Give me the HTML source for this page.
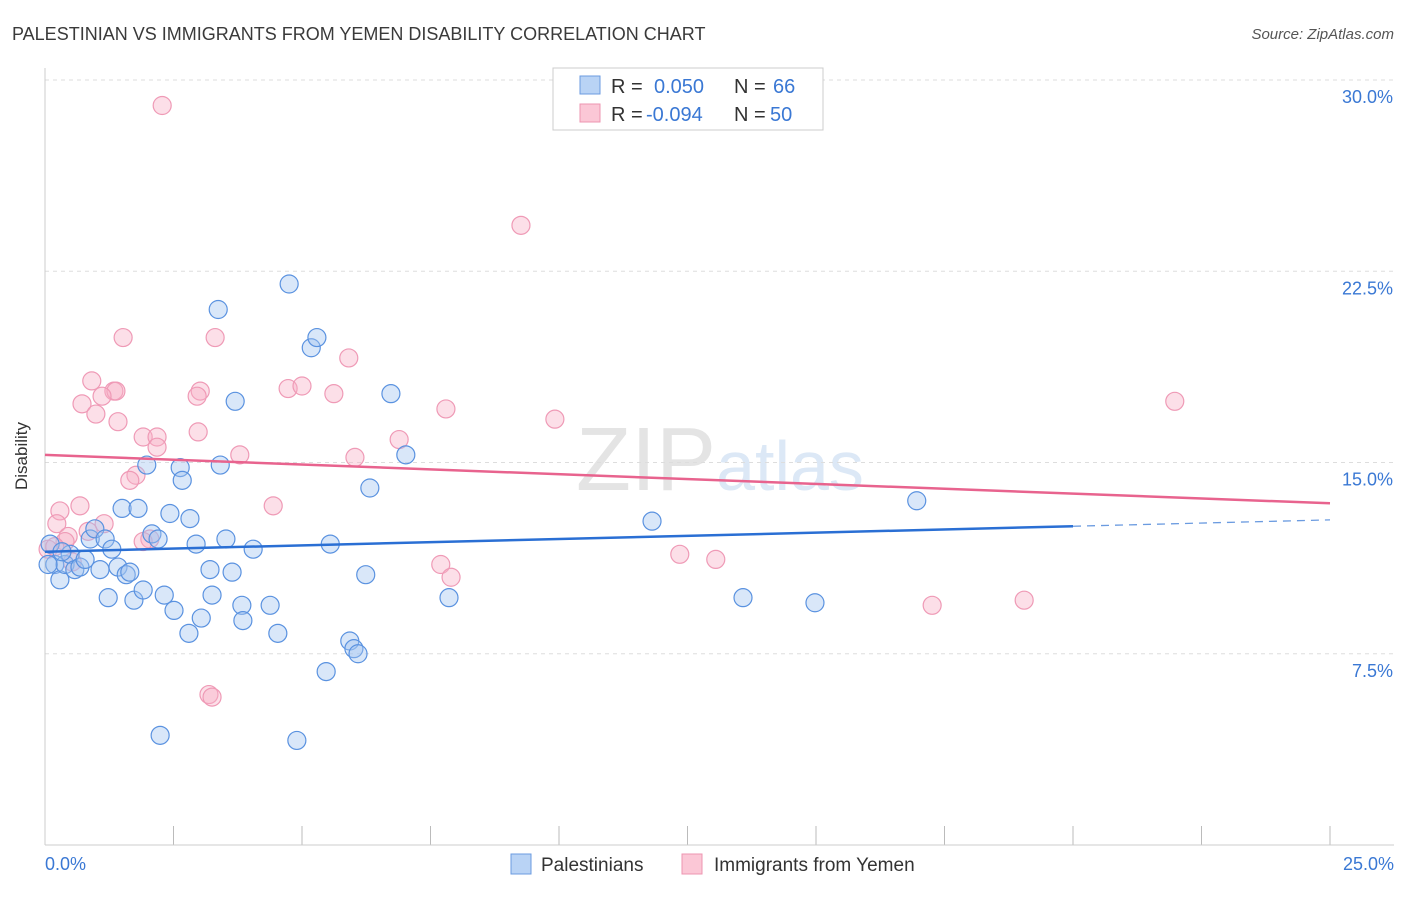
<!DOCTYPE html>
<html><head><meta charset="utf-8"><style>
body{margin:0;background:#fff;font-family:"Liberation Sans",sans-serif}
svg text{font-family:"Liberation Sans",sans-serif}
</style></head><body>
<svg width="1406" height="892" xmlns="http://www.w3.org/2000/svg">
<text x="12" y="40" font-size="18" fill="#3a3a3a">PALESTINIAN VS IMMIGRANTS FROM YEMEN DISABILITY CORRELATION CHART</text>
<text x="1394" y="39" font-size="15" fill="#555" text-anchor="end" font-style="italic">Source: ZipAtlas.com</text>
<text x="720" y="490" font-size="90" fill="#e4e4e4" text-anchor="middle" font-family="Liberation Serif">ZIP<tspan fill="#dce8f6" font-family="Liberation Sans" font-size="70">atlas</tspan></text>
<g id="grid"></g>
<line x1="45" y1="68" x2="45" y2="845" stroke="#ccc"/>
<line x1="45" y1="845" x2="1394" y2="845" stroke="#ccc"/>
<text x="27" y="456" font-size="17" fill="#333" text-anchor="middle" transform="rotate(-90 27 456)">Disability</text>
<text x="45" y="870" font-size="18" fill="#3a78d4">0.0%</text>
<text x="1394" y="870" font-size="18" fill="#3a78d4" text-anchor="end">25.0%</text>
<g id="pts"></g>
<g id="trends"></g>
<g>
<rect x="553" y="68" width="270" height="62" fill="#fff" stroke="#ccc"/>
<rect x="580" y="76" width="20" height="18" fill="#b9d3f5" stroke="#6b9be0"/>
<rect x="580" y="104" width="20" height="18" fill="#fbc7d6" stroke="#ee94b0"/>
<text x="611" y="93" font-size="20" fill="#333">R =</text>
<text x="654" y="93" font-size="20" fill="#3a78d4">0.050</text>
<text x="734" y="93" font-size="20" fill="#333">N =</text>
<text x="773" y="93" font-size="20" fill="#3a78d4">66</text>
<text x="611" y="121" font-size="20" fill="#333">R =</text>
<text x="646" y="121" font-size="20" fill="#3a78d4">-0.094</text>
<text x="734" y="121" font-size="20" fill="#333">N =</text>
<text x="770" y="121" font-size="20" fill="#3a78d4">50</text>
</g>
<g>
<rect x="511" y="854" width="20" height="20" fill="#b9d3f5" stroke="#6b9be0"/>
<text x="541" y="871" font-size="19" fill="#333">Palestinians</text>
<rect x="682" y="854" width="20" height="20" fill="#fbc7d6" stroke="#ee94b0"/>
<text x="714" y="871" font-size="19" fill="#333">Immigrants from Yemen</text>
</g>
</svg>
<script>
const yTicks=[7.5,15,22.5,30];
const yTickLabels=["7.5%","15.0%","22.5%","30.0%"];
const xTicks=[0,2.5,5,7.5,10,12.5,15,17.5,20,22.5,25];
const blueX=[0.1,0.19,0.29,0.39,0.49,0.58,0.68,0.78,0.88,0.97,1.07,1.17,1.23,1.3,1.42,1.5,1.58,1.65,1.73,1.81,1.91,1.98,2.08,2.2,2.24,2.32,2.43,2.51,2.63,2.67,2.8,2.82,2.94,3.04,3.21,3.25,3.37,3.41,3.52,3.64,3.7,3.83,3.85,4.05,4.38,4.53,4.75,4.9,5.18,5.29,5.47,5.55,5.93,6.01,6.09,6.24,6.32,6.73,7.02,7.86,11.81,13.58,14.98,16.96,0.06,0.33];
const blueY=[11.8,11.0,10.4,11.0,11.4,10.8,10.9,11.2,12.0,12.4,10.8,12.0,9.7,11.6,10.9,13.2,10.6,10.7,9.6,13.2,10.0,14.9,12.2,12.0,4.3,9.8,13.0,9.2,14.8,14.3,8.3,12.8,11.8,8.9,10.8,9.8,21.0,14.9,12.0,10.7,17.4,9.4,8.8,11.6,9.4,8.3,22.0,4.1,19.5,19.9,6.8,11.8,8.0,7.7,7.5,10.6,14.0,17.7,15.3,9.7,12.7,9.7,9.5,13.5,11.0,11.5];
const pinkX=[2.28,9.26,1.52,3.31,5.91,0.91,1.34,1.38,0.72,1.11,0.99,3.02,2.96,4.73,5.0,5.62,7.8,1.42,2.98,1.91,2.18,2.18,6.89,9.92,3.79,6.03,1.77,1.65,4.44,0.68,0.29,0.23,1.15,0.84,0.45,0.39,2.04,1.91,0.06,0.53,7.7,7.9,12.35,13.05,17.26,19.05,21.98,3.19,3.25,0.19];
const pinkY=[29.0,24.3,19.9,19.9,19.1,18.2,17.8,17.8,17.3,17.6,16.9,17.8,17.6,17.9,18.0,17.7,17.1,16.6,16.2,16.0,16.0,15.6,15.9,16.7,15.3,15.2,14.5,14.3,13.3,13.3,13.1,12.6,12.6,12.3,12.1,11.9,12.0,11.9,11.6,11.1,11.0,10.5,11.4,11.2,9.4,9.6,17.4,5.9,5.8,11.7];
const blueTrend=[[0,11.5],[20,12.5]];
const blueTrendDash=[[20,12.5],[25,12.75]];
const pinkTrend=[[0,15.3],[25,13.4]];
const X=v=>45+v*51.4, Y=v=>845-v*25.5;
const NS="http://www.w3.org/2000/svg";
const grid=document.getElementById('grid');
yTicks.forEach((t,i)=>{
 const l=document.createElementNS(NS,'line');
 l.setAttribute('x1',45);l.setAttribute('x2',1394);l.setAttribute('y1',Y(t));l.setAttribute('y2',Y(t));
 l.setAttribute('stroke','#ddd');l.setAttribute('stroke-dasharray','4,4');
 
 
 grid.appendChild(l);
 const tx=document.createElementNS(NS,'text');
 tx.setAttribute('x',1393);tx.setAttribute('y',Y(t)+23);tx.setAttribute('text-anchor','end');
 tx.setAttribute('font-size','18');tx.setAttribute('fill','#3a78d4');tx.textContent=yTickLabels[i];
 
 
 grid.appendChild(tx);
});
xTicks.forEach(t=>{
 const l=document.createElementNS(NS,'line');
 l.setAttribute('x1',X(t));l.setAttribute('x2',X(t));l.setAttribute('y1',826);l.setAttribute('y2',845);
 l.setAttribute('stroke','#bbb');
 
 
 grid.appendChild(l);
});
const pts=document.getElementById('pts');
function dots(xs,ys,fill,stroke,name){
 xs.forEach((x,i)=>{
  const c=document.createElementNS(NS,'circle');
  c.setAttribute('cx',X(x));c.setAttribute('cy',Y(ys[i]));c.setAttribute('r',9);
  c.setAttribute('fill',fill);c.setAttribute('stroke',stroke);c.setAttribute('stroke-width','1.2');
  
  
  pts.appendChild(c);
 });
}
dots(pinkX,pinkY,'rgba(248,176,198,0.4)','#ef9ab6','point-yemen');
dots(blueX,blueY,'rgba(160,195,240,0.4)','#5a92e0','point-palestinian');
const tr=document.getElementById('trends');
function line(p,color,dash,name){
 const l=document.createElementNS(NS,'line');
 l.setAttribute('x1',X(p[0][0]));l.setAttribute('y1',Y(p[0][1]));l.setAttribute('x2',X(p[1][0]));l.setAttribute('y2',Y(p[1][1]));
 l.setAttribute('stroke',color);l.setAttribute('stroke-width',dash?1.3:2.5);
 if(dash)l.setAttribute('stroke-dasharray','8,6');
 
 
 tr.appendChild(l);
}
line(pinkTrend,'#e8638e',false,'trend-yemen');
line(blueTrend,'#2a6fd4',false,'trend-palestinian');
line(blueTrendDash,'#6b9be0',true,'trend-palestinian-extrapolated');
</script>
</body></html>
